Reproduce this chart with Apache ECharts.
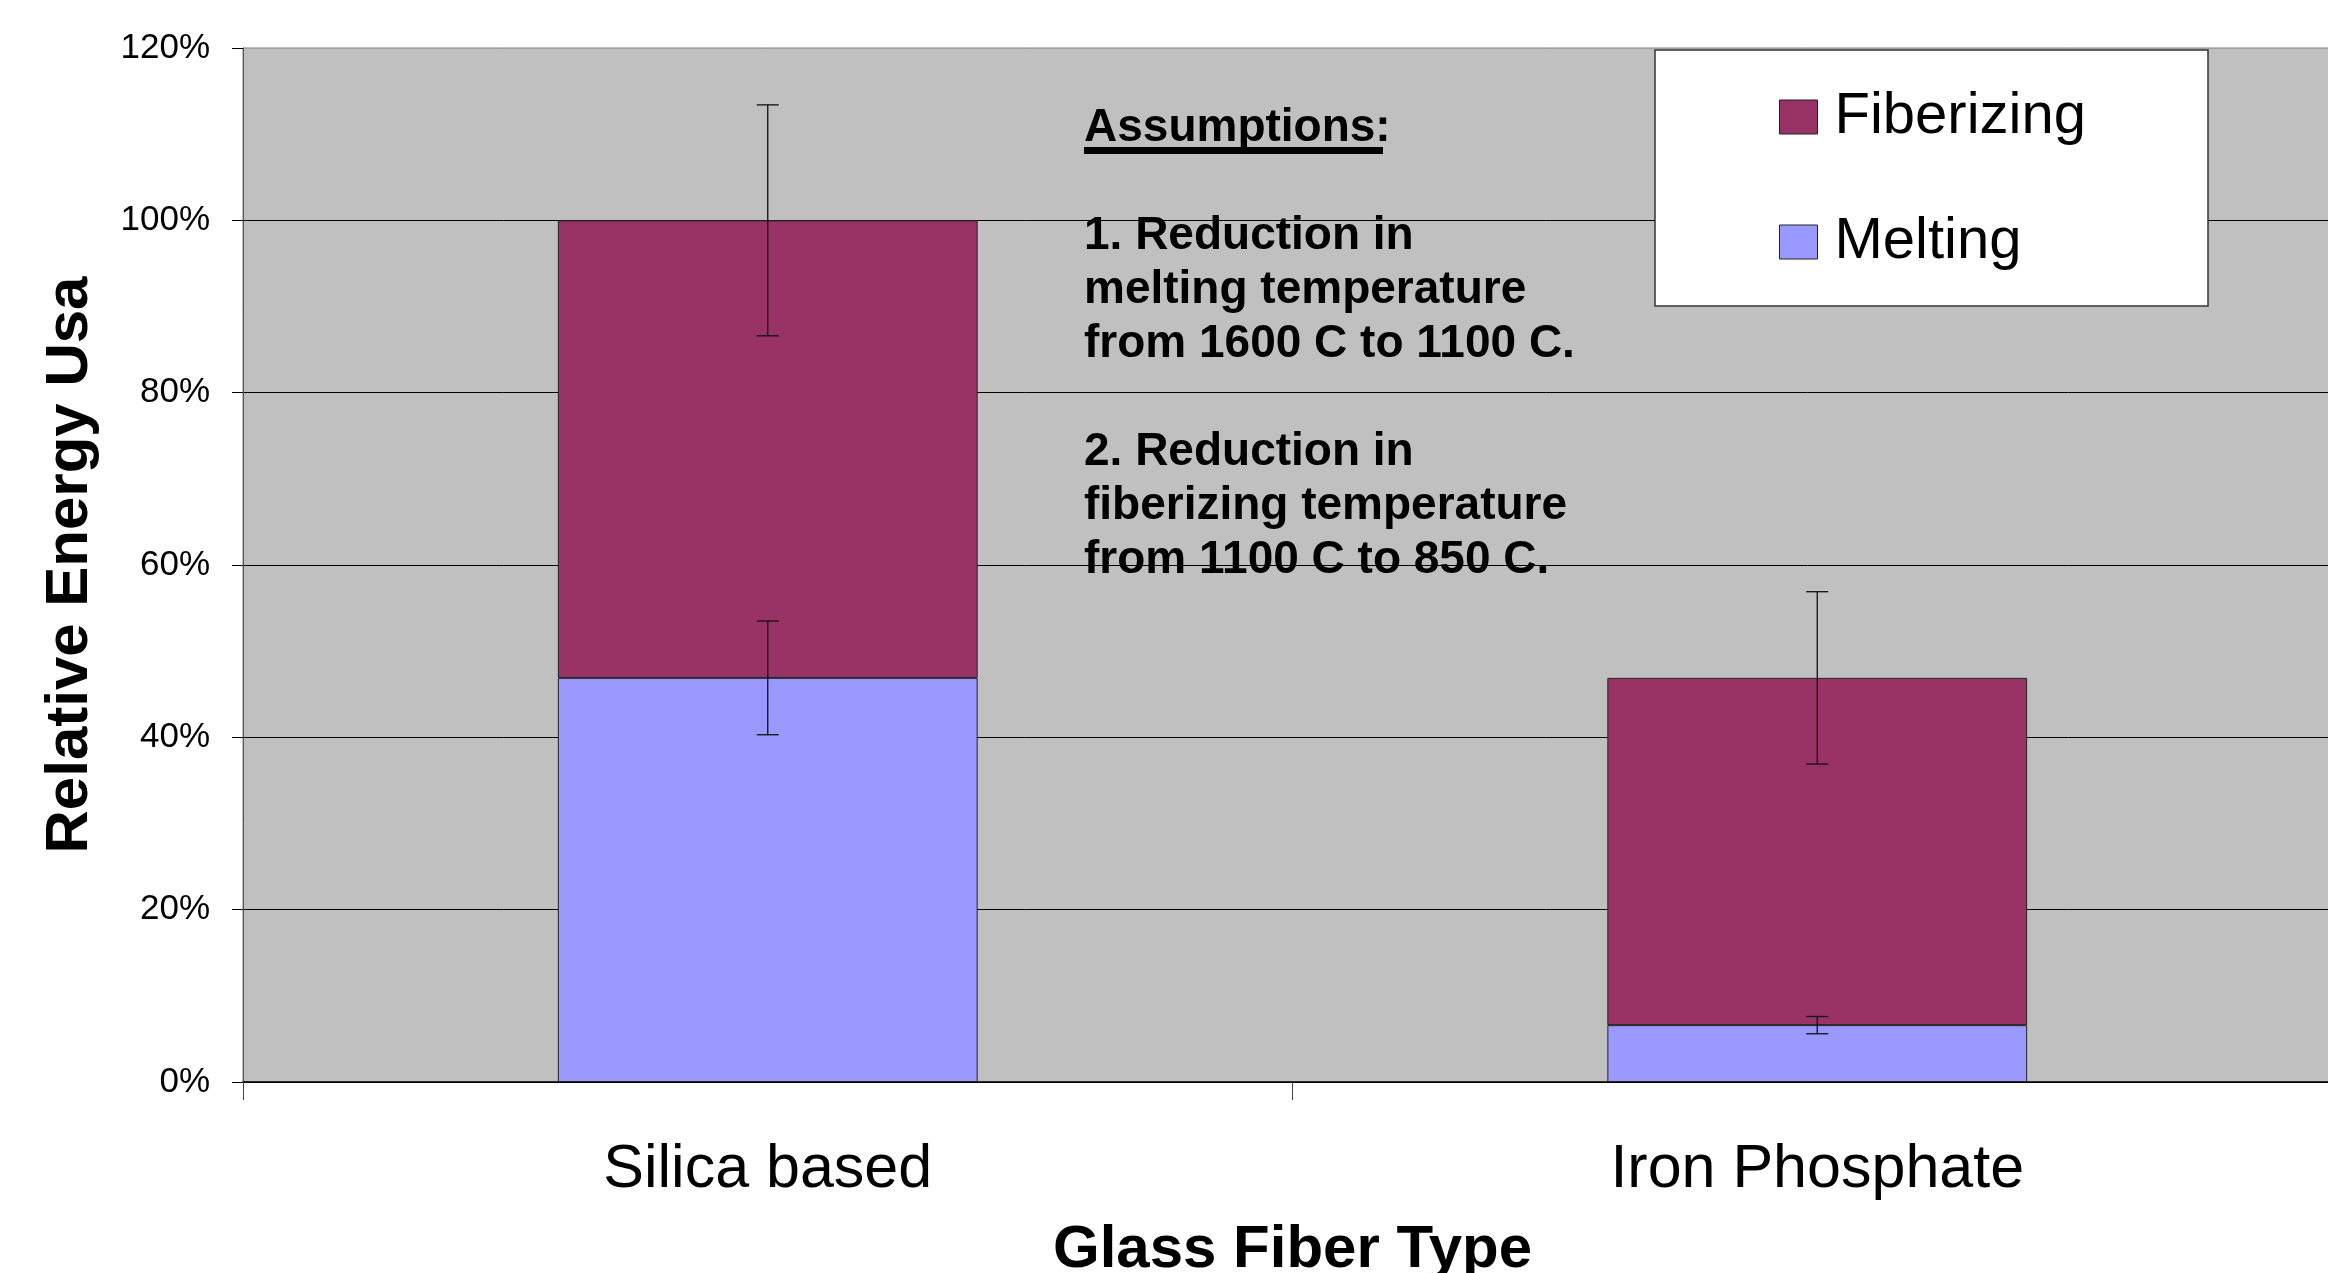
<!DOCTYPE html>
<html>
<head>
<meta charset="utf-8">
<script src="https://cdn.jsdelivr.net/npm/echarts@6/dist/echarts.min.js"></script>
<style>
html,body{margin:0;padding:0;background:#fff;}
#chart{width:2328px;height:1273px;}
</style>
</head>
<body>
<div id="chart"></div>
<script>
// ---- data ----
const categories = ['Silica based', 'Iron Phosphate'];
const seriesNames = ['Melting', 'Fiberizing'];
const melting = [46.9, 6.6];
const fiberizing = [53.1, 40.3];
const meltingErr = [6.6, 1.0];
const fiberizingErr = [13.4, 10.0];
const yTicks = [0, 20, 40, 60, 80, 100, 120];
const notes = 'Assumptions:\n\n1. Reduction in\nmelting temperature\nfrom 1600 C to 1100 C.\n\n2. Reduction in\nfiberizing temperature\nfrom 1100 C to 850 C.';

const FONT = '"Liberation Sans", Arial, sans-serif';
const colors = { Melting: '#9999FF', Fiberizing: '#993366' };

// error bar data derived from the values
const errData = [];
categories.forEach((c, i) => {
  const m = melting[i];
  errData.push([i, m - meltingErr[i], m + meltingErr[i]]);
  const t = melting[i] + fiberizing[i];
  errData.push([i, t - fiberizingErr[i], t + fiberizingErr[i]]);
});

const chart = echarts.init(document.getElementById('chart'), null, { renderer: 'canvas' });

const option = {
  animation: false,
  backgroundColor: '#ffffff',
  textStyle: { fontFamily: FONT },
  grid: {
    left: 243, top: 48, width: 2099, height: 1034,
    show: true, backgroundColor: '#C0C0C0', borderColor: '#808080', borderWidth: 1,
    containLabel: false,
    outerBoundsMode: 'none'
  },
  legend: {
    data: ['Fiberizing', 'Melting'],
    orient: 'vertical',
    left: 1779, top: 88,
    padding: 0,
    itemWidth: 38, itemHeight: 34, itemGap: 67,
    icon: 'rect',
    z: 6,
    itemStyle: { borderColor: '#222', borderWidth: 1 },
    textStyle: { fontFamily: FONT, fontSize: 58, lineHeight: 58, color: '#000', padding: [0, 0, 0, 12] }
  },
  xAxis: {
    type: 'category',
    data: categories,
    boundaryGap: true,
    axisLine: { show: true, lineStyle: { color: '#000', width: 1.5 } },
    axisTick: { show: true, length: 18, inside: false, lineStyle: { color: '#444', width: 1 } },
    axisLabel: { fontFamily: FONT, fontSize: 61, color: '#000', margin: 58 },
    name: 'Glass Fiber Type',
    nameLocation: 'middle',
    nameGap: 138,
    nameTextStyle: { fontFamily: FONT, fontSize: 60, fontWeight: 'bold', color: '#000' },
    splitLine: { show: false }
  },
  yAxis: {
    type: 'value',
    min: 0, max: 120, interval: 20,
    axisLine: { show: true, lineStyle: { color: '#555', width: 1 } },
    axisTick: { show: true, length: 11, lineStyle: { color: '#000', width: 1 } },
    axisLabel: {
      fontFamily: FONT, fontSize: 35, color: '#000', margin: 33,
      formatter: v => yTicks.includes(v) ? v + '%' : ''
    },
    splitLine: { show: true, showMaxLine: false, lineStyle: { color: '#000', width: 1 } },
    name: 'Relative Energy Usa',
    nameLocation: 'middle',
    nameRotate: 90,
    nameGap: 143,
    nameTextStyle: { fontFamily: FONT, fontSize: 60, fontWeight: 'bold', color: '#000' }
  },
  series: [
    {
      name: 'Melting', type: 'bar', stack: 'energy', data: melting,
      barWidth: '40%',
      itemStyle: { color: colors.Melting, borderColor: '#222', borderWidth: 1 },
      z: 2
    },
    {
      name: 'Fiberizing', type: 'bar', stack: 'energy', data: fiberizing,
      barWidth: '40%',
      itemStyle: { color: colors.Fiberizing, borderColor: '#222', borderWidth: 1 },
      z: 2
    },
    {
      name: 'errors', type: 'custom', z: 4,
      data: errData,
      encode: { x: 0, y: [1, 2] },
      renderItem: function (params, api) {
        const cat = api.value(0);
        const lo = api.coord([cat, api.value(1)]);
        const hi = api.coord([cat, api.value(2)]);
        const half = 11;
        const st = { stroke: '#111', lineWidth: 1.3 };
        return {
          type: 'group',
          children: [
            { type: 'line', shape: { x1: hi[0], y1: hi[1], x2: lo[0], y2: lo[1] }, style: st },
            { type: 'line', shape: { x1: hi[0] - half, y1: hi[1], x2: hi[0] + half, y2: hi[1] }, style: st },
            { type: 'line', shape: { x1: lo[0] - half, y1: lo[1], x2: lo[0] + half, y2: lo[1] }, style: st }
          ]
        };
      },
      silent: true,
      tooltip: { show: false }
    }
  ],
  graphic: [
    {
      type: 'rect', z: 5,
      shape: { x: 1655, y: 50, width: 553, height: 256 },
      style: { fill: '#ffffff', stroke: '#333', lineWidth: 1.5 }
    },
    {
      type: 'text', z: 7,
      x: 1084, y: 101,
      style: {
        text: notes,
        font: 'bold 46px "Liberation Sans", Arial, sans-serif',
        lineHeight: 54,
        fill: '#000'
      }
    },
    {
      type: 'rect', z: 7,
      shape: { x: 1084, y: 147, width: 299, height: 7 },
      style: { fill: '#000' }
    }
  ]
};

chart.setOption(option);
</script>
</body>
</html>
